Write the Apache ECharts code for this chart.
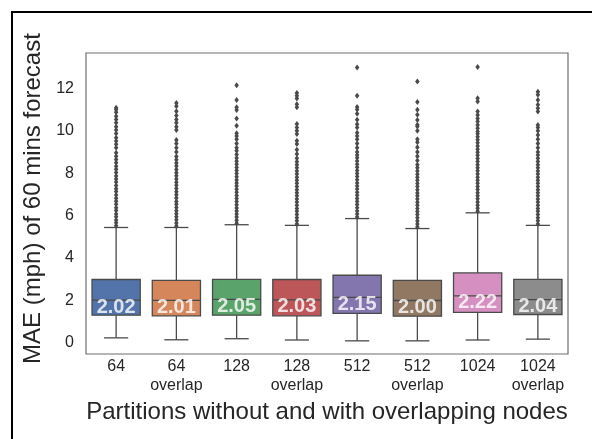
<!DOCTYPE html>
<html>
<head>
<meta charset="utf-8">
<script src="https://cdn.jsdelivr.net/npm/echarts@6/dist/echarts.min.js"></script>
<style>
html,body{margin:0;padding:0;background:#fff;}
#chart{width:592px;height:439px;}
</style>
</head>
<body>
<div id="chart"></div>
<script>
// ---- data ----
const categories = ['64', '64\noverlap', '128', '128\noverlap', '512', '512\noverlap', '1024', '1024\noverlap'];
const lowWhisker  = [0.24, 0.15, 0.20, 0.14, 0.10, 0.10, 0.14, 0.18];
const q1          = [1.31, 1.28, 1.31, 1.28, 1.39, 1.26, 1.44, 1.34];
const medians     = [2.02, 2.01, 2.05, 2.03, 2.15, 2.00, 2.22, 2.04];
const q3          = [2.99, 2.95, 3.00, 2.99, 3.19, 2.95, 3.30, 3.00];
const highWhisker = [5.44, 5.44, 5.57, 5.54, 5.86, 5.39, 6.13, 5.54];

const outliers64 = [5.52, 5.66, 5.79, 5.95, 6.08, 6.24, 6.37, 6.53, 6.68, 6.82, 6.97, 7.13, 7.27, 7.42, 7.58, 7.73, 7.87, 8.03, 8.18, 8.33, 8.49, 8.64, 8.8, 8.96, 9.2, 9.36, 9.51, 9.67, 9.87, 10.03, 10.19, 10.37, 10.53, 10.68, 10.87, 11.0, 11.08];
const outliers64o = [5.51, 5.65, 5.8, 5.94, 6.09, 6.23, 6.38, 6.54, 6.67, 6.83, 6.98, 7.12, 7.28, 7.43, 7.57, 7.72, 7.88, 8.02, 8.17, 8.34, 8.48, 8.63, 8.79, 9.0, 9.2, 9.4, 9.56, 10.03, 10.19, 10.37, 10.53, 10.71, 10.92, 11.15, 11.31];
const outliers128 = [5.64, 5.78, 5.93, 6.07, 6.22, 6.36, 6.51, 6.66, 6.8, 6.95, 7.1, 7.24, 7.39, 7.54, 7.68, 7.83, 7.98, 8.12, 8.27, 8.42, 8.56, 8.71, 8.88, 9.05, 9.2, 9.4, 9.6, 9.75, 9.88, 10.23, 10.57, 10.98, 11.1, 11.44, 12.14];
const outliers128o = [5.61, 5.76, 5.9, 6.05, 6.2, 6.34, 6.49, 6.64, 6.78, 6.93, 7.08, 7.22, 7.37, 7.52, 7.66, 7.81, 7.96, 8.1, 8.25, 8.4, 8.54, 8.7, 8.9, 9.1, 9.37, 9.53, 9.84, 10.0, 10.15, 10.31, 11.1, 11.25, 11.52, 11.65, 11.77];
const outliers512 = [5.93, 6.08, 6.22, 6.37, 6.52, 6.66, 6.81, 6.96, 7.1, 7.25, 7.4, 7.54, 7.69, 7.84, 7.98, 8.13, 8.28, 8.42, 8.57, 8.72, 8.86, 9.0, 9.2, 9.4, 9.6, 9.75, 9.9, 10.15, 10.3, 10.52, 10.8, 11.0, 11.12, 11.65, 12.98];
const outliers512o = [5.46, 5.61, 5.75, 5.9, 6.05, 6.19, 6.34, 6.49, 6.63, 6.78, 6.93, 7.07, 7.22, 7.37, 7.51, 7.66, 7.81, 7.95, 8.1, 8.25, 8.4, 8.6, 8.8, 9.0, 9.22, 9.46, 9.6, 10.0, 10.2, 10.28, 10.5, 10.75, 10.99, 11.35, 12.32];
const outliers1024 = [6.2, 6.35, 6.49, 6.64, 6.79, 6.93, 7.08, 7.23, 7.37, 7.52, 7.67, 7.81, 7.96, 8.11, 8.25, 8.4, 8.55, 8.69, 8.84, 8.99, 9.13, 9.28, 9.43, 9.57, 9.72, 9.86, 9.96, 10.11, 10.27, 10.43, 10.58, 10.74, 10.9, 11.37, 11.53, 13.0];
const outliers1024o = [5.61, 5.76, 5.9, 6.05, 6.2, 6.34, 6.49, 6.64, 6.78, 6.93, 7.08, 7.22, 7.37, 7.52, 7.66, 7.81, 7.96, 8.1, 8.25, 8.4, 8.55, 8.7, 8.85, 9.0, 9.2, 9.4, 9.6, 9.8, 10.0, 10.15, 10.27, 10.9, 11.06, 11.22, 11.45, 11.69, 11.84];

const yTitle = 'MAE (mph) of 60 mins forecast';
const xTitle = 'Partitions without and with overlapping nodes';

// ---- styles ----
const boxColors = ['#5274AA', '#D5865A', '#5AA36B', '#BD5659', '#8376AF', '#907863', '#D590C1', '#8C8C8C'];
const lineGray = '#4a4a4a';
const textColor = '#262626';
const fontFamily = '"Liberation Sans", Arial, sans-serif';

const allOutliers = [outliers64, outliers64o, outliers128, outliers128o, outliers512, outliers512o, outliers1024, outliers1024o];
const boxData = categories.map((c, i) => [i, lowWhisker[i], q1[i], medians[i], q3[i], highWhisker[i]]);
const outlierData = [];
allOutliers.forEach((arr, i) => arr.forEach(v => outlierData.push([i, v])));
const labelData = categories.map((c, i) => [i, medians[i]]);

const chart = echarts.init(document.getElementById('chart'), null, {renderer: 'canvas'});

const option = {
  animation: false,
  backgroundColor: '#fff',
  textStyle: {fontFamily: fontFamily},
  graphic: [{
    type: 'rect',
    shape: {x: 12, y: 12, width: 700, height: 600},
    style: {fill: 'none', stroke: '#000', lineWidth: 2},
    silent: true
  }],
  grid: {
    left: 86, top: 53, width: 482, height: 301,
    show: true, borderColor: '#6f6f6f', borderWidth: 1.2, backgroundColor: 'transparent'
  },
  xAxis: {
    type: 'category',
    data: categories,
    axisLine: {show: false},
    axisTick: {show: false},
    splitLine: {show: false},
    axisLabel: {
      interval: 0, fontSize: 16, color: textColor, lineHeight: 19, margin: 3,
      fontFamily: fontFamily
    },
    name: xTitle,
    nameLocation: 'middle',
    nameGap: 40,
    nameTextStyle: {fontSize: 24, color: textColor, fontFamily: fontFamily, lineHeight: 24}
  },
  yAxis: {
    type: 'value',
    min: -0.52, max: 13.66,
    splitNumber: 7,
    axisLine: {show: false},
    axisTick: {show: false},
    splitLine: {show: false},
    axisLabel: {
      fontSize: 16, color: textColor, margin: 12, showMinLabel: false, showMaxLabel: false,
      fontFamily: fontFamily
    },
    name: yTitle,
    nameLocation: 'middle',
    nameRotate: 90,
    nameGap: 31,
    nameTextStyle: {fontSize: 24, color: textColor, fontFamily: fontFamily, lineHeight: 24, padding: [0, 0, 0, 10]}
  },
  series: [
    {
      type: 'custom',
      data: boxData,
      encode: {x: 0, y: [1, 2, 3, 4, 5]},
      z: 2,
      renderItem: function (params, api) {
        const i = api.value(0);
        const bw = api.size([1, 0])[0];
        const hb = bw * 0.4, hc = bw * 0.2;
        const pLow = api.coord([i, api.value(1)]);
        const pQ1 = api.coord([i, api.value(2)]);
        const pMed = api.coord([i, api.value(3)]);
        const pQ3 = api.coord([i, api.value(4)]);
        const pHigh = api.coord([i, api.value(5)]);
        const x = pLow[0];
        const ls = {stroke: lineGray, lineWidth: 1.3};
        return {
          type: 'group',
          children: [
            {type: 'line', shape: {x1: x, y1: pQ1[1], x2: x, y2: pLow[1]}, style: ls},
            {type: 'line', shape: {x1: x, y1: pQ3[1], x2: x, y2: pHigh[1]}, style: ls},
            {type: 'line', shape: {x1: x - hc, y1: pLow[1], x2: x + hc, y2: pLow[1]}, style: ls},
            {type: 'line', shape: {x1: x - hc, y1: pHigh[1], x2: x + hc, y2: pHigh[1]}, style: ls},
            {type: 'rect', shape: {x: x - hb, y: pQ3[1], width: 2 * hb, height: pQ1[1] - pQ3[1]},
              style: {fill: boxColors[i], stroke: lineGray, lineWidth: 1.3}},
            {type: 'line', shape: {x1: x - hb, y1: pMed[1], x2: x + hb, y2: pMed[1]}, style: ls}
          ]
        };
      }
    },
    {
      type: 'scatter',
      data: outlierData,
      symbol: 'diamond',
      symbolSize: [4.5, 6],
      itemStyle: {color: lineGray, opacity: 1},
      z: 3
    },
    {
      type: 'scatter',
      data: labelData,
      symbolSize: 0,
      z: 5,
      label: {
        show: true,
        position: 'inside',
        offset: [0, 7],
        formatter: p => p.value[1].toFixed(2),
        color: '#ffffff',
        fontWeight: 'bold',
        fontSize: 20,
        fontFamily: fontFamily
      }
    }
  ]
};
chart.setOption(option);
</script>
</body>
</html>
